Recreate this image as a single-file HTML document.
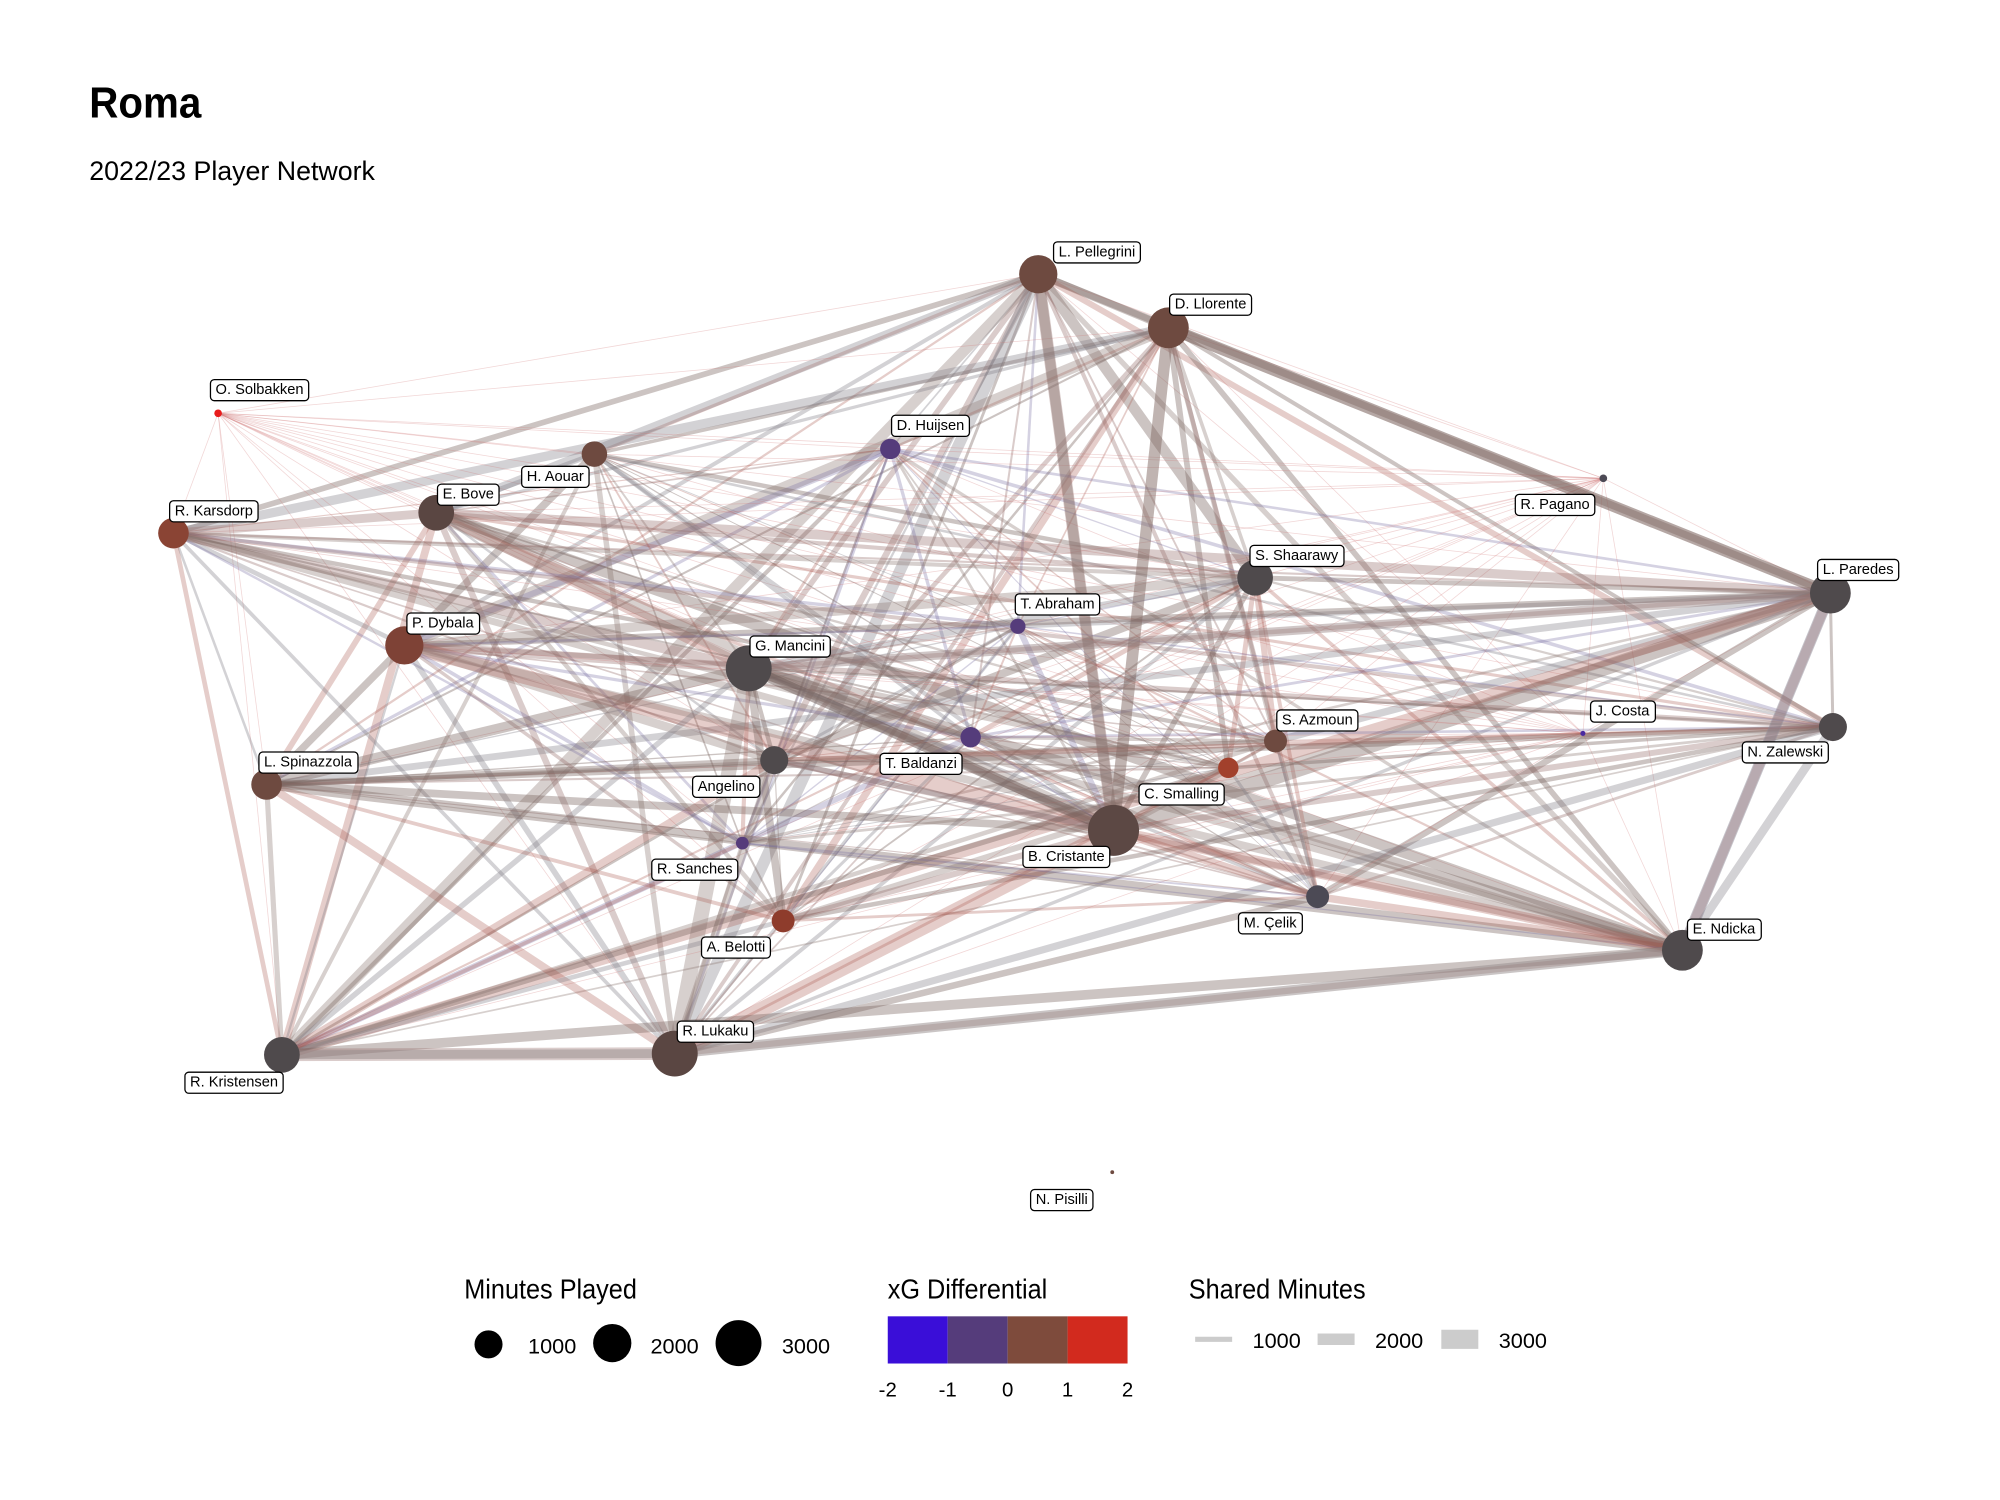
<!DOCTYPE html>
<html><head><meta charset="utf-8">
<style>
html,body{margin:0;padding:0;background:#fff;}
svg{display:block;}
text{font-family:"Liberation Sans",sans-serif;}
.lb{font-size:11.5px;fill:#000;}
</style></head>
<body>
<svg id="s" width="2000" height="1500" viewBox="0 0 1568 1176" xmlns="http://www.w3.org/2000/svg">
<rect width="1568" height="1176" fill="#fff"/>
<text x="70" y="92" font-size="34" font-weight="bold" transform="translate(70 0) scale(0.93 1) translate(-70 0)">Roma</text>
<text x="70" y="141" font-size="21">2022/23 Player Network</text>
<g id="edges"></g>
<g id="nodes"></g>
<g id="labels"></g>
<!-- legend -->
<g transform="translate(364 0) scale(0.9 1) translate(-364 0)"><text x="364" y="1018" font-size="22">Minutes Played</text></g>
<circle cx="383" cy="1054" r="11" fill="#000"/>
<circle cx="480" cy="1053" r="15" fill="#000"/>
<circle cx="579" cy="1053" r="18" fill="#000"/>
<text x="414" y="1061" font-size="17">1000</text>
<text x="510" y="1061" font-size="17">2000</text>
<text x="613" y="1061" font-size="17">3000</text>
<g transform="translate(696 0) scale(0.9 1) translate(-696 0)"><text x="696" y="1018" font-size="22">xG Differential</text></g>
<rect x="696" y="1032" width="47" height="37" fill="#3a0ed8"/>
<rect x="743" y="1032" width="47" height="37" fill="#553c7b"/>
<rect x="790" y="1032" width="47" height="37" fill="#7e4b3c"/>
<rect x="837" y="1032" width="47" height="37" fill="#d22a1e"/>
<g font-size="16" text-anchor="middle">
<text x="696" y="1095">-2</text><text x="743" y="1095">-1</text><text x="790" y="1095">0</text><text x="837" y="1095">1</text><text x="884" y="1095">2</text>
</g>
<g transform="translate(932 0) scale(0.9 1) translate(-932 0)"><text x="932" y="1018" font-size="22">Shared Minutes</text></g>
<line x1="937" y1="1050" x2="966" y2="1050" stroke="#ccc" stroke-width="4"/>
<line x1="1033" y1="1050" x2="1062" y2="1050" stroke="#ccc" stroke-width="9"/>
<line x1="1130" y1="1050" x2="1159" y2="1050" stroke="#ccc" stroke-width="15"/>
<text x="982" y="1057" font-size="17">1000</text>
<text x="1078" y="1057" font-size="17">2000</text>
<text x="1175" y="1057" font-size="17">3000</text>
</svg>
<script>
var N=[
["L. Pellegrini",814,215,15,"#6e4a40",[826,188]],
["D. Llorente",916,257,16,"#6e4a40",[917,229]],
["O. Solbakken",171,324,3,"#e81c1c",[165,296]],
["D. Huijsen",698,352,8,"#553c7b",[699,324]],
["H. Aouar",466,356,10,"#6e4a40",[409,364]],
["R. Pagano",1257,375,3,"#4c4a55",[1188,386]],
["E. Bove",342,402,14,"#5a4642",[343,378]],
["R. Karsdorp",136,418,12,"#8a4434",[133,391]],
["S. Shaarawy",984,453,14,"#4f4a4c",[980,426]],
["L. Paredes",1435,465,16,"#4f4a4c",[1425,437]],
["T. Abraham",798,491,6,"#553c7b",[796,464]],
["P. Dybala",317,506,15,"#7e4236",[319,479]],
["G. Mancini",587,524,18,"#4f4a4c",[588,497]],
["T. Baldanzi",761,578,8,"#553c7b",[690,589]],
["S. Azmoun",1000,581,9,"#6e4a40",[1001,555]],
["J. Costa",1241,575,2,"#4a2aa0",[1247,548]],
["N. Zalewski",1437,570,11,"#4f4a4c",[1366,580]],
["Angelino",607,596,11,"#4f4a4c",[543,607]],
["C. Smalling",963,602,8,"#a2402c",[893,613]],
["L. Spinazzola",209,615,12,"#6e4a40",[203,588]],
["B. Cristante",873,651,20,"#5c4844",[802,662]],
["R. Sanches",582,661,5,"#553c7b",[511,672]],
["M. Çelik",1033,703,9,"#4c4a55",[971,714]],
["A. Belotti",614,722,9,"#8e3c2c",[550,733]],
["E. Ndicka",1319,745,16,"#4f4a4c",[1323,719]],
["R. Kristensen",221,827,14,"#4f4a4c",[145,839]],
["R. Lukaku",529,826,18,"#5a4642",[531,799]],
["N. Pisilli",872,919,1.5,"#6e4a40",[808,931]]
];
var ns="http://www.w3.org/2000/svg";
function el(t,a){var e=document.createElementNS(ns,t);for(var k in a)e.setAttribute(k,a[k]);return e;}
var E=document.getElementById("edges"),G=document.getElementById("nodes"),L=document.getElementById("labels");
var cols=["rgba(120,100,95,0.38)","rgba(150,110,105,0.35)","rgba(130,125,135,0.35)","rgba(170,90,80,0.3)","rgba(140,120,115,0.35)"];
var seed=7;function rnd(){seed=(seed*9301+49297)%233280;return seed/233280;}
for(var i=0;i<N.length;i++)for(var j=i+1;j<N.length;j++){
 var a=N[i],b=N[j];
 if(a[3]<2||b[3]<2)continue;
 var w=a[3]*b[3]*0.028*(0.3+rnd()*1.2);
 if(rnd()<0.12)continue;
 var c=cols[Math.floor(rnd()*cols.length)];
 if(a[4]=="#553c7b"||b[4]=="#553c7b")c=rnd()<0.35?"rgba(115,105,160,0.3)":c;
 if(a[3]<4||b[3]<4){w=0.6;c="rgba(210,120,120,0.3)";}
 E.appendChild(el("line",{x1:a[1],y1:a[2],x2:b[1],y2:b[2],stroke:c,"stroke-width":Math.max(0.5,Math.min(w,12))}));
}
[[1,9,9,"rgba(120,95,90,0.55)"],[9,24,9,"rgba(140,135,150,0.5)"],[24,26,8,"rgba(150,140,140,0.5)"],[25,26,7,"rgba(150,140,140,0.5)"],[1,20,9,"rgba(130,105,100,0.5)"],[0,20,8,"rgba(140,120,115,0.45)"],[12,20,8,"rgba(110,90,85,0.5)"],[9,12,7,"rgba(150,130,130,0.45)"]].forEach(function(q){
 var a=N[q[0]],b=N[q[1]];E.appendChild(el("line",{x1:a[1],y1:a[2],x2:b[1],y2:b[2],stroke:q[3],"stroke-width":q[2]}));});
N.forEach(function(n){
 G.appendChild(el("circle",{cx:n[1],cy:n[2],r:n[3],fill:n[4]}));
 var t=el("text",{x:n[5][0]+4,y:n[5][1]+13,"class":"lb"});t.textContent=n[0];L.appendChild(t);
});
var ts=L.querySelectorAll("text");
for(var k=0;k<ts.length;k++){var bb=ts[k].getBBox();
 var r=el("rect",{x:bb.x-4,y:bb.y-2,width:bb.width+8,height:bb.height+4,rx:3,fill:"#fff",stroke:"#000","stroke-width":1});
 L.insertBefore(r,ts[k]);}
</script>
</body></html>
